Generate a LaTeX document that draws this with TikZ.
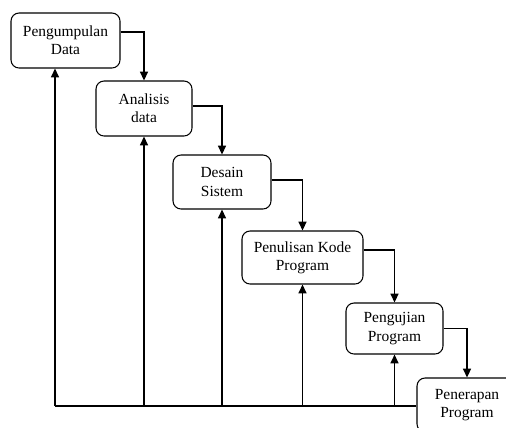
\documentclass[tikz,border=0pt]{standalone}
\usepackage{fontspec}
\setmainfont{Liberation Serif}
\usepackage{tikz}
\usetikzlibrary{arrows.meta,positioning}

\begin{document}
\begin{tikzpicture}[x=0.02cm,y=-0.02cm,
		tahap/.style={draw, line width=0.6pt, rounded corners=0.16cm, align=center,
			font=\fontsize{8.8}{10.4}\selectfont, inner sep=1pt},
		alur/.style={line width=1pt, -{Triangle[length=5pt,width=4.5pt]}}
	]
	\clip (0,0) rectangle (506,427);
	
	\node [tahap, minimum width=2.18cm, minimum height=1.10cm] (pd) at (65.5,40.5) {Pengumpulan\\Data};
	\node [tahap, minimum width=1.92cm, minimum height=1.10cm] (ad) at (144,108.5) {Analisis\\data};
	\node [tahap, minimum width=1.96cm, minimum height=1.08cm] (ds) at (222,182) {Desain\\Sistem};
	\node [tahap, minimum width=2.42cm, minimum height=1.06cm] (pk) at (302.5,257.5) {Penulisan Kode\\Program};
	\node [tahap, minimum width=1.94cm, minimum height=1.02cm] (up) at (394.5,328.5) {Pengujian\\Program};
	\node [tahap, minimum width=2.00cm, minimum height=1.08cm] (pp) at (467,405) {Penerapan\\Program};
	
	% alur turun
	\draw [alur] ([yshift=0.17cm]pd.east) -| (ad.north);
	\draw [alur] ([yshift=0.05cm]ad.east) -| (ds.north);
	\draw [alur] ([yshift=0.04cm]ds.east) -| (pk.north);
	\draw [alur] ([yshift=0.15cm]pk.east) -| (up.north);
	\draw [alur] (up.east) -| (pp.north);
	
	% umpan balik
	\coordinate (fb) at (55,406);
	\draw [line width=1pt] (fb) -- (pp.west |- fb);
	\draw [alur] (fb) -- (fb |- pd.south);
	\draw [alur] (ad.south |- fb) -- (ad.south);
	\draw [alur] (ds.south |- fb) -- (ds.south);
	\draw [alur] (pk.south |- fb) -- (pk.south);
	\draw [alur] (up.south |- fb) -- (up.south);
\end{tikzpicture}
\end{document}
